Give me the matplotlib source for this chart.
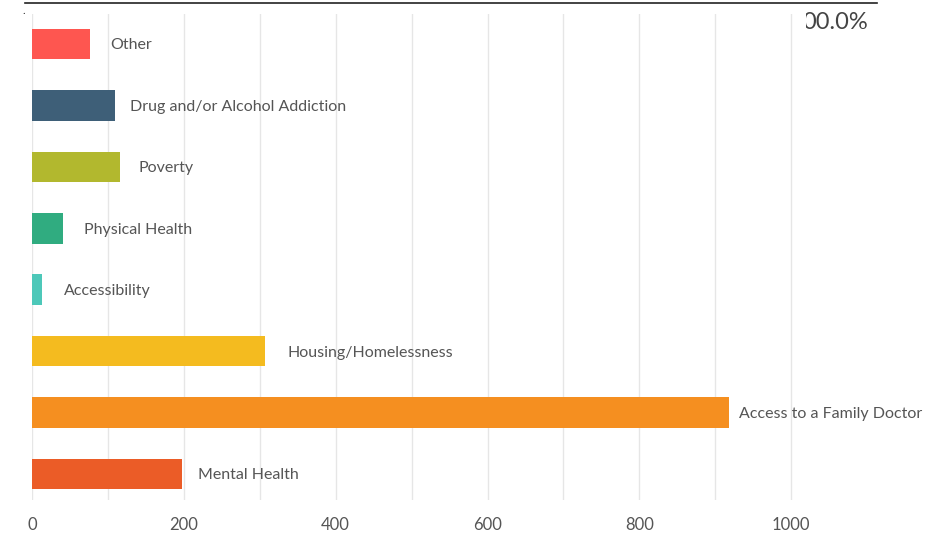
import matplotlib.pyplot as plt
from matplotlib.patches import Rectangle

# Data
categories = ['Other', 'Drug and/or Alcohol Addiction', 'Poverty', 'Physical Health',
              'Accessibility', 'Housing/Homelessness', 'Access to a Family Doctor',
              'Mental Health']
counts = [76, 109, 116, 41, 13, 307, 918, 198]
colors = ['#fe5650', '#3e5f78', '#b2b82e', '#30ac80', '#4dc8b9', '#f4bb1f',
          '#f58f20', '#eb5c27']
tick_values = [0, 200, 400, 600, 800, 1000]

plt.rcParams['font.family'] = ['Lato', 'DejaVu Sans']

W, H = 939, 533
fig = plt.figure(figsize=(W / 100, H / 100), dpi=100)
ax = fig.add_axes([32 / W, 1 - 500 / H, (877 - 32) / W, (500 - 14) / H])

ypos = list(range(len(categories)))
ax.barh(ypos, counts, height=0.5, color=colors, zorder=2)

# labels to the right of each bar (the last long one sits closer)
gaps = [15, 11, 13, 15, 16, 16, 7, 11]
for y, v, name, g in zip(ypos, counts, categories, gaps):
    ax.annotate(name, (v, y), xytext=(g, -1), textcoords='offset points',
                va='center', ha='left', fontsize=11.5, color='#555555')

ax.set_xlim(0, 1113)
ax.set_ylim(7 + 26 / 61.4, -30 / 61.4)
ax.set_xticks(tick_values)
ax.set_xticks(range(0, 1001, 100), minor=True)
ax.set_yticks([])
ax.grid(axis='x', which='both', color='#e6e6e6', linewidth=1, zorder=0)
ax.tick_params(axis='x', which='both', length=0, pad=12, labelsize=12,
               labelcolor='#555555')
for s in ax.spines.values():
    s.set_visible(False)

# top rule, stray dot and clipped percentage
fig.add_artist(plt.Line2D([25 / W, 877 / W], [1 - 3 / H, 1 - 3 / H],
                          color='#222222', linewidth=1.2))
fig.text(24 / W, 1 - 11 / H, '.', fontsize=8, color='#333333', ha='center', va='center')
fig.text(868 / W, 1 - 22 / H, '00.0%', fontsize=17, color='#444444',
         ha='right', va='center', zorder=3)
fig.add_artist(Rectangle((794 / W, 1 - 36 / H), (806 - 794) / W, 28 / H,
                         transform=fig.transFigure, facecolor='white',
                         edgecolor='none', zorder=4))

fig.savefig('out.png', dpi=100)
